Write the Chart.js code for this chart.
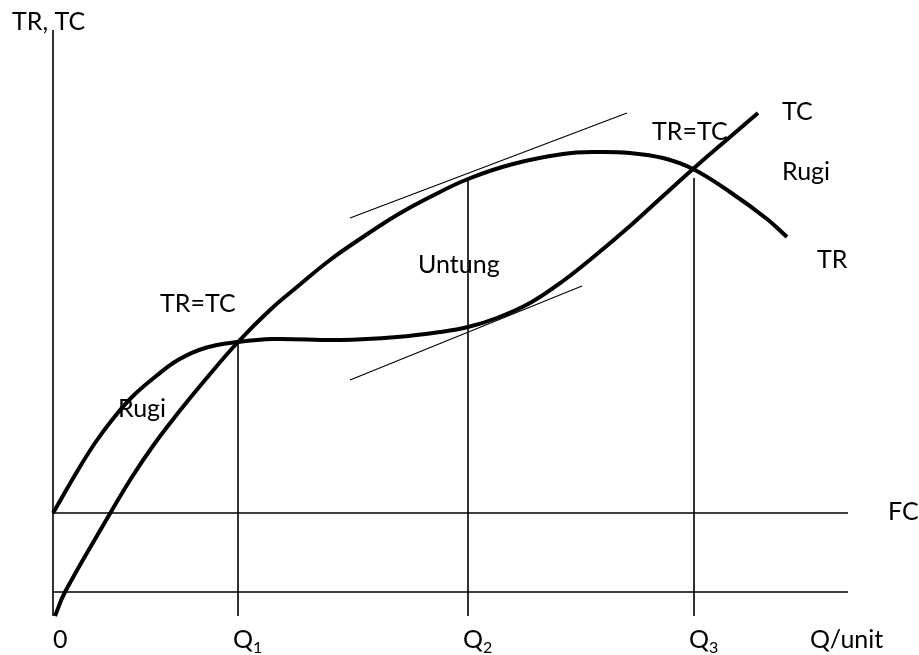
<!DOCTYPE html>
<html>
<head>
<meta charset="utf-8">
<script src="https://cdn.jsdelivr.net/npm/chart.js@4.4.1/dist/chart.umd.min.js"></script>
<style>
  html, body { margin: 0; padding: 0; background: #fff; }
  #wrap { width: 919px; height: 655px; }
</style>
</head>
<body>
<div id="wrap"><canvas id="chart"></canvas></div>
<script>
// total revenue curve (Q, TR)
const tr_q = [0.2, 1.2, 5.5, 7.9, 10.2, 12.5, 15.2, 18.5, 21.7, 24.4, 27.7, 31.0, 34.4, 37.7, 41.5, 46.0, 51.0, 54.4, 57.7, 61.0, 64.0, 67.7, 71.4, 73.4]
const tr_value = [-2.4, 0, 7.5, 11.5, 14.9, 17.9, 21.2, 25.0, 28.2, 30.5, 33.2, 35.5, 37.7, 39.5, 41.3, 42.8, 43.8, 44.0, 43.9, 43.4, 42.3, 40.0, 37.3, 35.5]

// total cost curve (Q, TC)
const tc_q = [0, 2.5, 4.2, 5.9, 7.9, 10.2, 12.5, 15.2, 18.5, 22.0, 28.7, 34.4, 38.7, 41.5, 44.4, 47.7, 51.0, 54.4, 57.7, 61.0, 64.0, 67.7, 70.5]
const tc_value = [7.9, 12.2, 14.9, 17.2, 19.5, 21.5, 23.2, 24.4, 25.0, 25.3, 25.2, 25.5, 26.0, 26.5, 27.4, 28.9, 31.1, 33.8, 36.6, 39.6, 42.3, 45.5, 47.9]

// fixed cost, quantity axis
const fc_value = 7.9
const axis_end = 79.5
const axis_top = 56.2
const axis_bottom = -2.4

// Q1, Q2, Q3 and where their drop lines start
const q_marks = [18.5, 41.5, 64.1]
const q_top = [25.0, 41.3, 41.4]
const q_subs = ['1', '2', '3']

// tangent lines at Q2
const tan_top_q = [29.7, 57.4]
const tan_top_value = [37.4, 47.9]
const tan_bot_q = [29.7, 52.9]
const tan_bot_value = [21.2, 30.6]

// text labels (text, Q, value)
const labels = [
    ['TR, TC', -4.1, 56.2],
    ['TR=TC', 10.7, 28.0],
    ['Rugi', 6.5, 17.5],
    ['Untung', 36.5, 31.9],
    ['TR=TC', 59.9, 45.2],
    ['TC', 72.9, 47.2],
    ['Rugi', 72.9, 41.2],
    ['TR', 76.4, 32.4],
    ['FC', 83.5, 7.2],
    ['0', 0, -5.6],
    ['Q/unit', 75.7, -5.6]
]

function pts(xs, ys) {
    return xs.map((x, i) => ({x: x, y: ys[i]}))
}

function line(data, width, tension) {
    return {
        data: data,
        showLine: true,
        borderColor: '#000',
        borderWidth: width,
        pointRadius: 0,
        tension: tension,
        clip: false,
        fill: false
    }
}

const datasets = [
    line(pts(tr_q, tr_value), 4, 0.4),
    line(pts(tc_q, tc_value), 4, 0.4),
    line([{x: 0, y: axis_top}, {x: 0, y: axis_bottom}], 1.6, 0),
    line([{x: 0, y: fc_value}, {x: axis_end, y: fc_value}], 1.6, 0),
    line([{x: 0, y: 0}, {x: axis_end, y: 0}], 1.6, 0),
    line(pts(tan_top_q, tan_top_value), 1.2, 0),
    line(pts(tan_bot_q, tan_bot_value), 1.2, 0)
]
q_marks.forEach((q, i) => {
    datasets.push(line([{x: q, y: q_top[i]}, {x: q, y: axis_bottom}], 1.6, 0))
})

const textPlugin = {
    id: 'texts',
    afterDatasetsDraw(chart) {
        const ctx = chart.ctx
        const xs = chart.scales.x
        const ys = chart.scales.y
        ctx.save()
        ctx.fillStyle = '#000'
        ctx.textAlign = 'left'
        ctx.textBaseline = 'alphabetic'
        ctx.font = '25px Lato'
        labels.forEach(l => {
            ctx.fillText(l[0], xs.getPixelForValue(l[1]), ys.getPixelForValue(l[2]))
        })
        q_marks.forEach((q, i) => {
            let px = xs.getPixelForValue(q) - 5
            let py = ys.getPixelForValue(-5.6)
            ctx.font = '25px Lato'
            ctx.fillText('Q', px, py)
            let w = ctx.measureText('Q').width
            ctx.font = '16px Lato'
            ctx.fillText(q_subs[i], px + w, py + 5)
        })
        ctx.restore()
    }
}

new Chart(document.getElementById('chart'), {
    type: 'scatter',
    data: {datasets: datasets},
    options: {
        responsive: true,
        maintainAspectRatio: false,
        animation: false,
        layout: {padding: 0},
        plugins: {legend: {display: false}, tooltip: {enabled: false}},
        scales: {
            x: {type: 'linear', display: false, min: -5.3, max: 86.6},
            y: {type: 'linear', display: false, min: -6.3, max: 59.2}
        }
    },
    plugins: [textPlugin]
})
</script>
</body>
</html>
